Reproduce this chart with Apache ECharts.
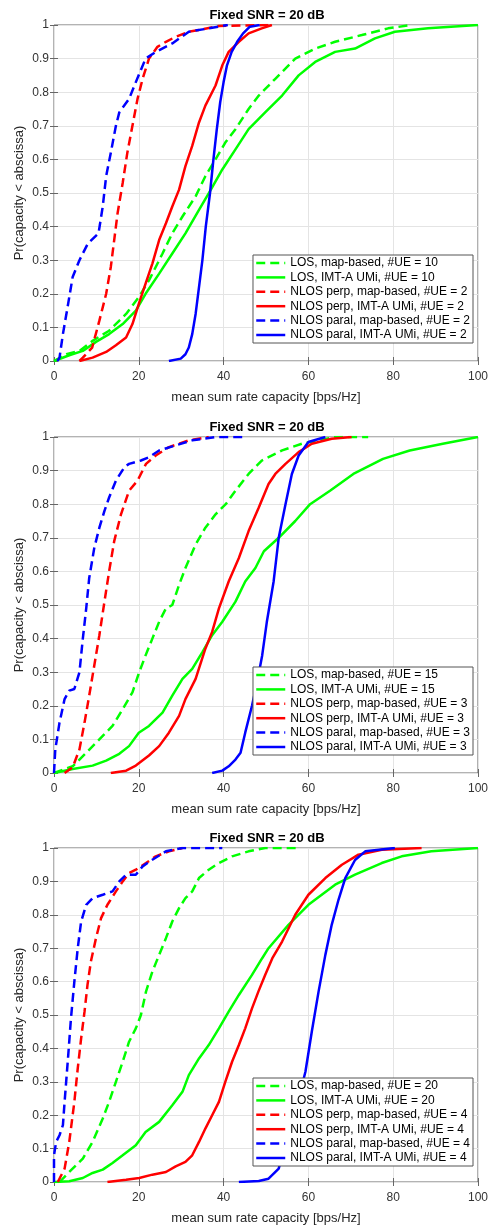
<!DOCTYPE html>
<html>
<head>
<meta charset="utf-8">
<script src="https://cdn.jsdelivr.net/npm/echarts@6/dist/echarts.min.js"></script>
<style>
  html, body { margin: 0; padding: 0; background: #fff; }
  #chart { width: 491px; height: 1226px; }
</style>
</head>
<body>
<div id="chart"></div>
<script>
// tick labels
var xTicks = [0, 20, 40, 60, 80, 100];
var yTicks = [0, 0.1, 0.2, 0.3, 0.4, 0.5, 0.6, 0.7, 0.8, 0.9, 1];

// legend names, one list per panel
var names1 = ["LOS, map-based, #UE = 10", "LOS, IMT-A UMi, #UE = 10", "NLOS perp, map-based, #UE = 2", "NLOS perp, IMT-A UMi, #UE = 2", "NLOS paral, map-based, #UE = 2", "NLOS paral, IMT-A UMi, #UE = 2"];
var names2 = ["LOS, map-based, #UE = 15", "LOS, IMT-A UMi, #UE = 15", "NLOS perp, map-based, #UE = 3", "NLOS perp, IMT-A UMi, #UE = 3", "NLOS paral, map-based, #UE = 3", "NLOS paral, IMT-A UMi, #UE = 3"];
var names3 = ["LOS, map-based, #UE = 20", "LOS, IMT-A UMi, #UE = 20", "NLOS perp, map-based, #UE = 4", "NLOS perp, IMT-A UMi, #UE = 4", "NLOS paral, map-based, #UE = 4", "NLOS paral, IMT-A UMi, #UE = 4"];

// panel 1 : [capacity, probability]
var p1GreenDash = [[0,0],[2.9,0.02],[6,0.03],[9.1,0.06],[13,0.09],[17,0.14],[20,0.19],[22.4,0.24],[25.6,0.32],[27.9,0.38],[30.3,0.43],[33.4,0.49],[35.7,0.55],[38.1,0.6],[40.4,0.65],[42.8,0.69],[45.9,0.75],[48.3,0.79],[52.2,0.84],[56.9,0.9],[61.6,0.93],[66.3,0.95],[72.6,0.97],[78.8,0.99],[84.3,1]];
var p1GreenSolid = [[0,0],[3.6,0.017],[6.8,0.03],[9.9,0.057],[13,0.08],[16.2,0.11],[19.3,0.15],[21.6,0.2],[24.8,0.26],[27.9,0.32],[31,0.38],[34.2,0.45],[37,0.51],[39.7,0.57],[42.8,0.63],[45.9,0.69],[49.8,0.74],[53.8,0.79],[57.7,0.85],[61.6,0.89],[66.3,0.92],[71,0.93],[75.7,0.96],[80.4,0.98],[88.2,0.99],[100,1]];
var p1RedDash = [[6,0],[6.8,0.01],[9,0.04],[10.7,0.12],[12.3,0.2],[13.4,0.28],[14.2,0.36],[15,0.44],[16.2,0.53],[17.3,0.62],[18.5,0.7],[19.7,0.78],[20.9,0.84],[22.4,0.9],[24.4,0.935],[26.4,0.95],[28.7,0.965],[31.8,0.98],[34.2,0.985],[38.9,0.997],[51,1]];
var p1RedSolid = [[6,0],[9.1,0.01],[12.3,0.027],[14.6,0.047],[17,0.07],[18.5,0.11],[20,0.17],[21.6,0.23],[23.2,0.29],[24.8,0.36],[26.4,0.41],[27.9,0.46],[29.5,0.51],[31,0.58],[32.6,0.64],[34.2,0.71],[35.7,0.76],[38.1,0.82],[39.7,0.88],[41.2,0.92],[43.6,0.95],[45.9,0.975],[49,0.99],[51.4,1]];
var p1BlueDash = [[0.8,0],[1.3,0.01],[2.1,0.08],[3.2,0.16],[4.4,0.25],[6,0.3],[8,0.35],[10.5,0.38],[11.5,0.46],[12.3,0.55],[13.4,0.62],[14.6,0.7],[15.4,0.74],[17.7,0.78],[19.3,0.83],[21.6,0.9],[24,0.92],[27.9,0.945],[31.8,0.98],[36.5,0.99],[41,1]];
var p1BlueSolid = [[27.1,0],[29.9,0.007],[31,0.02],[31.8,0.04],[32.6,0.08],[33.4,0.14],[34.2,0.22],[35,0.3],[35.8,0.4],[36.8,0.5],[37.6,0.6],[38.4,0.69],[39.2,0.77],[40,0.83],[40.8,0.88],[41.9,0.92],[43.2,0.95],[44.6,0.975],[46.2,0.995],[48.5,1]];

// panel 2
var p2GreenDash = [[0,0],[4.4,0.02],[7.6,0.06],[10.7,0.1],[13.8,0.14],[16.2,0.19],[18.5,0.24],[20.1,0.3],[21.6,0.35],[23.2,0.4],[24.8,0.45],[26.4,0.49],[27.9,0.5],[29.5,0.56],[31,0.61],[33.4,0.68],[35.7,0.73],[38.1,0.77],[40.5,0.8],[42.8,0.84],[45.9,0.89],[49,0.93],[53.8,0.96],[58.5,0.98],[66.3,1],[74.1,1]];
var p2GreenSolid = [[0,0],[4.4,0.012],[9.1,0.022],[12.3,0.037],[15.4,0.057],[17.7,0.08],[20,0.12],[22.4,0.14],[25.6,0.18],[27.9,0.23],[30.3,0.28],[32.6,0.31],[35,0.36],[37.3,0.41],[39.7,0.45],[42.8,0.51],[45.1,0.57],[47.5,0.61],[49.5,0.66],[53,0.7],[56.9,0.75],[60.4,0.8],[65.1,0.84],[70.6,0.89],[77.6,0.935],[83.9,0.96],[91.7,0.98],[100,1]];
var p2RedDash = [[2.5,0],[4.4,0.017],[6,0.07],[7.2,0.15],[8.3,0.23],[9.5,0.32],[10.7,0.41],[11.9,0.51],[13,0.6],[14.2,0.69],[15.8,0.77],[17.7,0.84],[19.7,0.87],[21.7,0.92],[24,0.945],[27.1,0.97],[31.8,0.99],[36.5,1]];
var p2RedSolid = [[13.4,0],[17,0.007],[19.3,0.022],[22.4,0.052],[24.8,0.08],[27.1,0.12],[29.5,0.17],[31,0.22],[33.4,0.28],[35.7,0.37],[37.3,0.42],[38.9,0.49],[41.2,0.57],[43.6,0.64],[45.9,0.72],[48.3,0.79],[50.6,0.86],[52.2,0.89],[54.6,0.92],[57.7,0.955],[60.8,0.98],[65.5,0.995],[70.2,1]];
var p2BlueDash = [[0,0],[0.3,0.07],[1.3,0.15],[2.5,0.22],[3.6,0.245],[4.8,0.25],[6,0.3],[6.8,0.4],[7.6,0.49],[8.3,0.58],[9.5,0.67],[10.7,0.73],[11.9,0.78],[13,0.82],[14.6,0.87],[16.6,0.91],[17.7,0.92],[20.5,0.93],[22.4,0.94],[24.8,0.96],[28.7,0.975],[32.6,0.99],[38.1,1],[44.4,1]];
var p2BlueSolid = [[37.3,0],[39.7,0.007],[41.2,0.02],[42.8,0.04],[44,0.06],[45.1,0.12],[46.7,0.2],[47.9,0.27],[49.1,0.35],[50.2,0.45],[51.8,0.57],[53,0.7],[54.6,0.8],[56.1,0.89],[57.7,0.945],[60,0.985],[64,1]];

// panel 3
var p3GreenDash = [[1.3,0],[3.6,0.03],[6.8,0.07],[9.1,0.12],[11.5,0.19],[13,0.24],[14.6,0.3],[16.2,0.36],[17.7,0.42],[19.3,0.46],[20.5,0.5],[21.7,0.57],[23.2,0.63],[24.8,0.68],[26.4,0.73],[27.9,0.78],[29.5,0.82],[31,0.85],[32.6,0.87],[34.2,0.91],[36.5,0.935],[38.9,0.955],[42,0.975],[45.9,0.99],[49.8,1],[57.7,1]];
var p3GreenSolid = [[0,0],[3.6,0.002],[6.8,0.012],[9.1,0.027],[11.5,0.037],[13.8,0.057],[16.2,0.08],[19.3,0.11],[21.6,0.15],[24.8,0.18],[27.9,0.23],[30.3,0.27],[31.8,0.32],[34.2,0.37],[36.5,0.41],[38.9,0.46],[41.2,0.51],[43.6,0.56],[46.7,0.62],[49.1,0.67],[50.6,0.7],[55.3,0.77],[60,0.83],[66.3,0.89],[71,0.92],[77.3,0.955],[82,0.975],[89,0.99],[100,1]];
var p3RedDash = [[0.9,0],[2.5,0.04],[3.6,0.12],[4.8,0.24],[5.6,0.34],[6.4,0.43],[7.2,0.51],[7.9,0.59],[8.7,0.66],[9.9,0.73],[11.1,0.79],[12.6,0.83],[14.6,0.87],[16.2,0.9],[17.7,0.925],[19.3,0.935],[21.7,0.955],[24,0.975],[27.1,0.99],[30.3,1]];
var p3RedSolid = [[12.6,0],[17,0.007],[20.1,0.012],[23.2,0.022],[26.4,0.03],[28.7,0.047],[31,0.06],[32.6,0.08],[34.2,0.12],[35.7,0.16],[37.3,0.2],[38.9,0.24],[40.4,0.3],[42,0.36],[43.6,0.41],[45.1,0.46],[46.7,0.52],[48.2,0.57],[49.8,0.62],[51.5,0.67],[53.8,0.72],[56.9,0.8],[60,0.86],[64,0.91],[67.9,0.95],[71.8,0.98],[77.3,0.995],[86.7,1]];
var p3BlueDash = [[0,0],[0,0.08],[0.5,0.12],[1.3,0.14],[2.1,0.17],[2.5,0.24],[3.3,0.37],[4,0.49],[4.8,0.6],[5.6,0.7],[6.4,0.78],[7.6,0.83],[9.1,0.85],[11.5,0.86],[13.8,0.87],[15.4,0.9],[17,0.92],[19.3,0.92],[20.9,0.945],[23.2,0.965],[26.4,0.99],[30.3,1],[39.7,1]];
var p3BlueSolid = [[43.6,0],[48.3,0.003],[50.6,0.01],[53,0.04],[55.3,0.15],[57.7,0.25],[59.3,0.33],[60.8,0.45],[62.4,0.57],[64,0.68],[65.5,0.77],[67.1,0.845],[68.7,0.91],[71,0.964],[73.4,0.99],[80.4,1]];

var panels = [
  { names: names1, curves: [p1GreenDash, p1GreenSolid, p1RedDash, p1RedSolid, p1BlueDash, p1BlueSolid] },
  { names: names2, curves: [p2GreenDash, p2GreenSolid, p2RedDash, p2RedSolid, p2BlueDash, p2BlueSolid] },
  { names: names3, curves: [p3GreenDash, p3GreenSolid, p3RedDash, p3RedSolid, p3BlueDash, p3BlueSolid] }
];

var colors = ["#00ff00", "#00ff00", "#ff0000", "#ff0000", "#0000ff", "#0000ff"];
var dashed = [true, false, true, false, true, false];

var FONT = "Liberation Sans, Arial, Helvetica, sans-serif";
var gridTops = [25, 437, 848];
var legendTops = [255, 667, 1078];
var plotLeft = 54, plotWidth = 426, plotHeight = 336;

var grid = [], xAxis = [], yAxis = [], title = [], legend = [], series = [];

for (var i = 0; i < 3; i++) {
  grid.push({
    left: plotLeft, top: gridTops[i], width: plotWidth, height: plotHeight,
    show: true, borderColor: "#666", borderWidth: 1, backgroundColor: "#fff"
  });
  title.push({
    text: "Fixed SNR = 20 dB",
    left: plotLeft + plotWidth / 2, top: gridTops[i] - 16, textAlign: "center", padding: 0,
    textStyle: { fontFamily: FONT, fontSize: 13, fontWeight: "bold", color: "#000" }
  });
  // bottom / left axes with labels
  xAxis.push({
    type: "value", gridIndex: i, min: 0, max: 100, interval: 20,
    name: "mean sum rate capacity [bps/Hz]", nameLocation: "middle", nameGap: 30,
    nameMoveOverlap: false,
    nameTextStyle: { fontFamily: FONT, fontSize: 13, color: "#262626" },
    axisLine: { show: false },
    axisTick: { show: true, inside: true, length: 4, lineStyle: { color: "#666" } },
    axisLabel: { fontFamily: FONT, fontSize: 12, color: "#333", margin: 10 },
    splitLine: { show: true, lineStyle: { color: "#e4e4e4", width: 1 } }
  });
  yAxis.push({
    type: "value", gridIndex: i, min: 0, max: 1, interval: 0.1,
    name: "Pr(capacity < abscissa)", nameLocation: "middle", nameGap: 28,
    nameMoveOverlap: false,
    nameTextStyle: { fontFamily: FONT, fontSize: 13, color: "#262626" },
    axisLine: { show: false },
    axisTick: { show: true, inside: true, length: 4, lineStyle: { color: "#666" } },
    axisLabel: {
      fontFamily: FONT, fontSize: 12, color: "#333", margin: 5,
      formatter: function (v) { return String(+v.toFixed(1)); }
    },
    splitLine: { show: true, lineStyle: { color: "#e4e4e4", width: 1 } }
  });
  legend.push({
    orient: "vertical", right: 18, top: legendTops[i],
    data: panels[i].names,
    itemWidth: 29, itemHeight: 14, itemGap: 2.4, padding: [2, 3, 2, 2],
    backgroundColor: "#fff", borderColor: "#555", borderWidth: 1,
    itemStyle: { opacity: 0 },
    lineStyle: { width: 2.5 },
    textStyle: { fontFamily: FONT, fontSize: 12, color: "#000" },
    selectedMode: false
  });
}
// top / right axes: inside ticks only (matlab box)
for (var i = 0; i < 3; i++) {
  xAxis.push({
    type: "value", gridIndex: i, position: "top", min: 0, max: 100, interval: 20,
    axisLine: { show: false }, axisLabel: { show: false }, splitLine: { show: false },
    axisTick: { show: true, inside: true, length: 4, lineStyle: { color: "#666" } }
  });
  yAxis.push({
    type: "value", gridIndex: i, position: "right", min: 0, max: 1, interval: 0.1,
    axisLine: { show: false }, axisLabel: { show: false }, splitLine: { show: false },
    axisTick: { show: true, inside: true, length: 4, lineStyle: { color: "#666" } }
  });
}

for (var i = 0; i < 3; i++) {
  for (var k = 0; k < 6; k++) {
    series.push({
      name: panels[i].names[k],
      type: "line",
      xAxisIndex: i, yAxisIndex: i,
      data: panels[i].curves[k],
      symbol: "none", showSymbol: false,
      smooth: false,
      color: colors[k],
      lineStyle: { color: colors[k], width: 2.5, type: dashed[k] ? [9, 5] : "solid" },
      emphasis: { disabled: true }
    });
  }
}

var chartInstance = echarts.init(document.getElementById("chart"), null, { renderer: "canvas" });
chartInstance.setOption({
  animation: false,
  backgroundColor: "#fff",
  title: title,
  grid: grid,
  xAxis: xAxis,
  yAxis: yAxis,
  legend: legend,
  series: series
});
</script>
</body>
</html>
